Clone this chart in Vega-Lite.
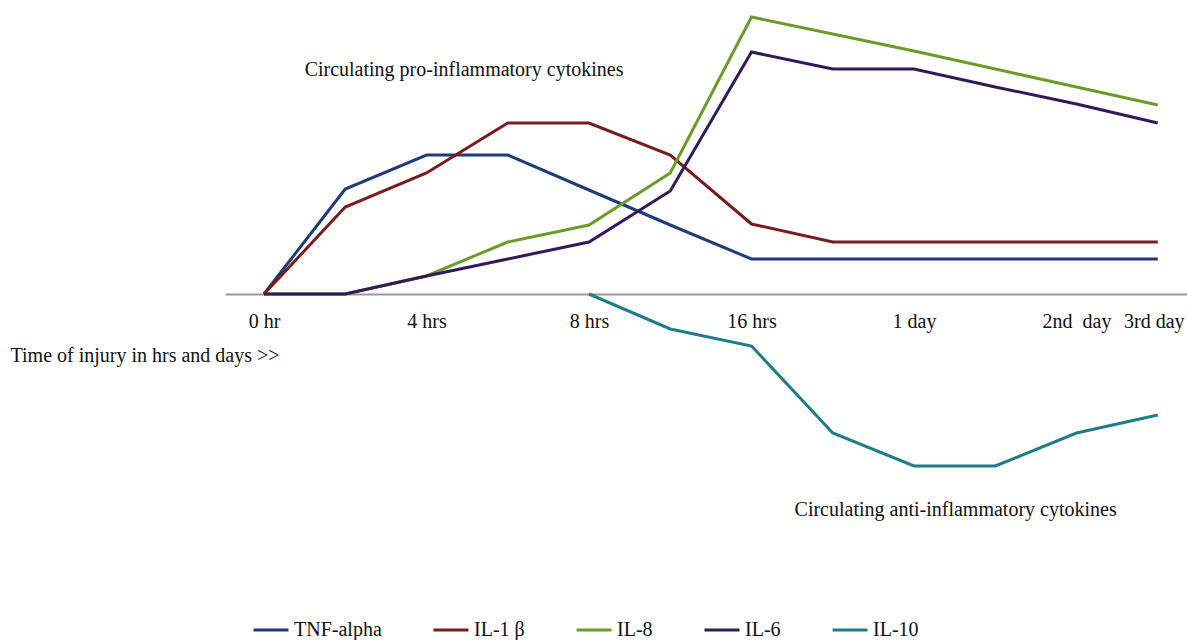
{
  "$schema": "https://vega.github.io/schema/vega-lite/v6.json",
  "width": 962,
  "height": 600,
  "autosize": {"type": "none"},
  "padding": {"left": 225, "top": 0, "right": 0, "bottom": 40},
  "background": "white",
  "config": {"view": {"stroke": null}, "font": "Liberation Serif"},
  "layer": [
    {
      "data": {
        "values": [
          {"series": "TNF-alpha", "t": 0, "v": 0},
          {"series": "TNF-alpha", "t": 1, "v": 105},
          {"series": "TNF-alpha", "t": 2, "v": 139},
          {"series": "TNF-alpha", "t": 3, "v": 139},
          {"series": "TNF-alpha", "t": 4, "v": 104},
          {"series": "TNF-alpha", "t": 5, "v": 69},
          {"series": "TNF-alpha", "t": 6, "v": 35},
          {"series": "TNF-alpha", "t": 7, "v": 35},
          {"series": "TNF-alpha", "t": 8, "v": 35},
          {"series": "TNF-alpha", "t": 9, "v": 35},
          {"series": "TNF-alpha", "t": 10, "v": 35},
          {"series": "TNF-alpha", "t": 11, "v": 35},
          {"series": "IL-1 β", "t": 0, "v": 0},
          {"series": "IL-1 β", "t": 1, "v": 87},
          {"series": "IL-1 β", "t": 2, "v": 121},
          {"series": "IL-1 β", "t": 3, "v": 171},
          {"series": "IL-1 β", "t": 4, "v": 171},
          {"series": "IL-1 β", "t": 5, "v": 139},
          {"series": "IL-1 β", "t": 6, "v": 70},
          {"series": "IL-1 β", "t": 7, "v": 52},
          {"series": "IL-1 β", "t": 8, "v": 52},
          {"series": "IL-1 β", "t": 9, "v": 52},
          {"series": "IL-1 β", "t": 10, "v": 52},
          {"series": "IL-1 β", "t": 11, "v": 52},
          {"series": "IL-8", "t": 0, "v": 0},
          {"series": "IL-8", "t": 1, "v": 0},
          {"series": "IL-8", "t": 2, "v": 18},
          {"series": "IL-8", "t": 3, "v": 52},
          {"series": "IL-8", "t": 4, "v": 69},
          {"series": "IL-8", "t": 5, "v": 121},
          {"series": "IL-8", "t": 6, "v": 277},
          {"series": "IL-8", "t": 7, "v": 260},
          {"series": "IL-8", "t": 8, "v": 243},
          {"series": "IL-8", "t": 9, "v": 225},
          {"series": "IL-8", "t": 10, "v": 207},
          {"series": "IL-8", "t": 11, "v": 189},
          {"series": "IL-6", "t": 0, "v": 0},
          {"series": "IL-6", "t": 1, "v": 0},
          {"series": "IL-6", "t": 2, "v": 18},
          {"series": "IL-6", "t": 3, "v": 35},
          {"series": "IL-6", "t": 4, "v": 52},
          {"series": "IL-6", "t": 5, "v": 103},
          {"series": "IL-6", "t": 6, "v": 242},
          {"series": "IL-6", "t": 7, "v": 225},
          {"series": "IL-6", "t": 8, "v": 225},
          {"series": "IL-6", "t": 9, "v": 207},
          {"series": "IL-6", "t": 10, "v": 190},
          {"series": "IL-6", "t": 11, "v": 171},
          {"series": "IL-10", "t": 4, "v": 0},
          {"series": "IL-10", "t": 5, "v": -35},
          {"series": "IL-10", "t": 6, "v": -52},
          {"series": "IL-10", "t": 7, "v": -139},
          {"series": "IL-10", "t": 8, "v": -172},
          {"series": "IL-10", "t": 9, "v": -172},
          {"series": "IL-10", "t": 10, "v": -139},
          {"series": "IL-10", "t": 11, "v": -121}
        ]
      },
      "mark": {"type": "line", "strokeWidth": 3},
      "encoding": {
        "x": {
          "field": "t",
          "type": "quantitative",
          "scale": {"domain": [-0.48, 11.36], "nice": false, "zero": false},
          "axis": {
            "values": [0, 2, 4, 6, 8, 10, 11],
            "labelExpr": "datum.value == 0 ? '0 hr' : datum.value == 2 ? '4 hrs' : datum.value == 4 ? '8 hrs' : datum.value == 6 ? '16 hrs' : datum.value == 8 ? '1 day' : datum.value == 10 ? '2nd\u00a0 day' : '3rd day'",
            "offset": -306,
            "ticks": false,
            "grid": false,
            "domainColor": "#9a9a9a",
            "domainWidth": 2,
            "labelFont": "Liberation Serif",
            "labelFontSize": 20,
            "labelColor": "#111111",
            "labelBaseline": "middle",
            "labelPadding": 27,
            "labelFlush": false,
            "labelOverlap": false,
            "labelBound": false,
            "labelOffset": {"condition": {"test": "datum.value == 11", "value": -4}, "value": 0},
            "title": "Time of injury in hrs and days >>",
            "titleFont": "Liberation Serif",
            "titleFontSize": 20,
            "titleFontWeight": "normal",
            "titleColor": "#111111",
            "titleX": -215,
            "titleY": 61,
            "titleAlign": "left",
            "titleBaseline": "middle",
            "titleAnchor": null
          }
        },
        "y": {
          "field": "v",
          "type": "quantitative",
          "scale": {"domain": [-306, 294], "nice": false, "zero": false},
          "axis": null
        },
        "color": {
          "field": "series",
          "type": "nominal",
          "scale": {
            "domain": ["TNF-alpha", "IL-1 β", "IL-8", "IL-6", "IL-10"],
            "range": ["#1e3c78", "#7a1c1c", "#6b9b2a", "#34195a", "#1f7c8c"]
          },
          "legend": {
            "orient": "none",
            "direction": "horizontal",
            "legendX": 27,
            "legendY": 611,
            "title": null,
            "symbolType": "stroke",
            "symbolSize": 1225,
            "symbolStrokeWidth": 3,
            "labelFont": "Liberation Serif",
            "labelFontSize": 20,
            "labelColor": "#111111",
            "labelOffset": 4,
            "columnPadding": 45
          }
        }
      }
    },
    {
      "data": {
        "values": [
          {"label": "Circulating pro-inflammatory cytokines", "t": 0.5, "v": 224},
          {"label": "Circulating anti-inflammatory cytokines", "t": 6.53, "v": -216}
        ]
      },
      "mark": {"type": "text", "align": "left", "baseline": "middle", "fontSize": 20, "font": "Liberation Serif", "color": "#111111"},
      "encoding": {
        "x": {"field": "t", "type": "quantitative"},
        "y": {"field": "v", "type": "quantitative"},
        "text": {"field": "label"}
      }
    }
  ]
}
